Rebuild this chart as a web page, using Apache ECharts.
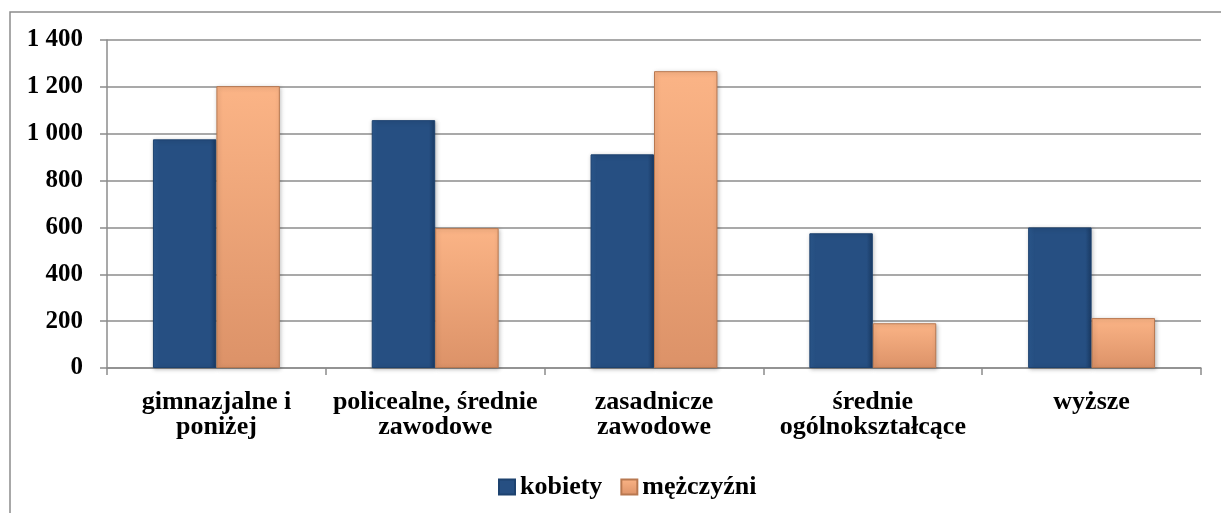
<!DOCTYPE html>
<html>
<head>
<meta charset="utf-8">
<script src="https://cdn.jsdelivr.net/npm/echarts@6/dist/echarts.min.js"></script>
<style>
html,body{margin:0;padding:0;background:#fff;}
#chart{width:1221px;height:513px;}
</style>
</head>
<body>
<div id="chart"></div>
<script>
// wykształcenie - kategorie
var categories = ['gimnazjalne i\nponiżej', 'policealne, średnie\nzawodowe', 'zasadnicze\nzawodowe', 'średnie\nogólnokształcące', 'wyższe'];
var kobiety = [976, 1058, 912, 575, 600];
var mezczyzni = [1203, 597, 1267, 191, 213];
var yTicks = [0, 200, 400, 600, 800, 1000, 1200, 1400];

var font = '"Liberation Serif", "Times New Roman", serif';

function fmt(v){
    return String(v).replace(/\B(?=(\d{3})+(?!\d))/g, ' ');
}

var chart = echarts.init(document.getElementById('chart'));
var option = {
    backgroundColor: '#fff',
    animation: false,
    graphic: [
        //ramka
        {type: 'rect', shape: {x: 10, y: 12, width: 1260, height: 560},
         style: {fill: 'none', stroke: '#8c8c8c', lineWidth: 1.5}, silent: true}
    ],
    grid: {left: 107, right: 20, top: 40, bottom: 145},
    legend: {
        left: 493, top: 469, icon: 'rect',
        itemWidth: 16, itemHeight: 15, itemGap: 18,
        textStyle: {fontFamily: font, fontWeight: 'bold', fontSize: 26, color: '#000'},
        data: ['kobiety', 'mężczyźni']
    },
    xAxis: {
        type: 'category',
        data: categories,
        axisLine: {lineStyle: {color: '#8c8c8c', width: 1.5}},
        axisTick: {show: true, length: 7, lineStyle: {color: '#8c8c8c', width: 1.5}},
        axisLabel: {fontFamily: font, fontWeight: 'bold', fontSize: 26, color: '#000', margin: 22, lineHeight: 25, interval: 0}
    },
    yAxis: {
        type: 'value',
        min: yTicks[0], max: yTicks[yTicks.length - 1], interval: 200,
        axisLine: {show: true, lineStyle: {color: '#8c8c8c', width: 1.5}},
        axisTick: {show: true, length: 7, lineStyle: {color: '#8c8c8c', width: 1.5}},
        splitLine: {lineStyle: {color: '#8c8c8c', width: 1.5}},
        axisLabel: {fontFamily: font, fontWeight: 'bold', fontSize: 25, color: '#000', margin: 24, formatter: fmt}
    },
    series: [
        {
            name: 'kobiety', type: 'bar', data: kobiety,
            barGap: '0%', barCategoryGap: '42%',
            itemStyle: {
                color: new echarts.graphic.LinearGradient(0, 0, 1, 0, [
                    {offset: 0, color: '#2c5a91'}, {offset: 0.1, color: '#264f82'},
                    {offset: 0.9, color: '#264f82'}, {offset: 1, color: '#1b3c66'}
                ]),
                borderColor: '#1d426f', borderWidth: 1,
                shadowColor: 'rgba(0,0,0,0.25)', shadowBlur: 4, shadowOffsetX: 1, shadowOffsetY: 1
            }
        },
        {
            name: 'mężczyźni', type: 'bar', data: mezczyzni,
            barGap: '0%', barCategoryGap: '42%',
            itemStyle: {
                color: new echarts.graphic.LinearGradient(0, 0, 0, 1, [
                    {offset: 0, color: '#fbb486'}, {offset: 1, color: '#dc9268'}
                ]),
                borderColor: '#b87850', borderWidth: 1,
                shadowColor: 'rgba(0,0,0,0.25)', shadowBlur: 4, shadowOffsetX: 1, shadowOffsetY: 1
            }
        }
    ]
};
chart.setOption(option);
</script>
</body>
</html>
